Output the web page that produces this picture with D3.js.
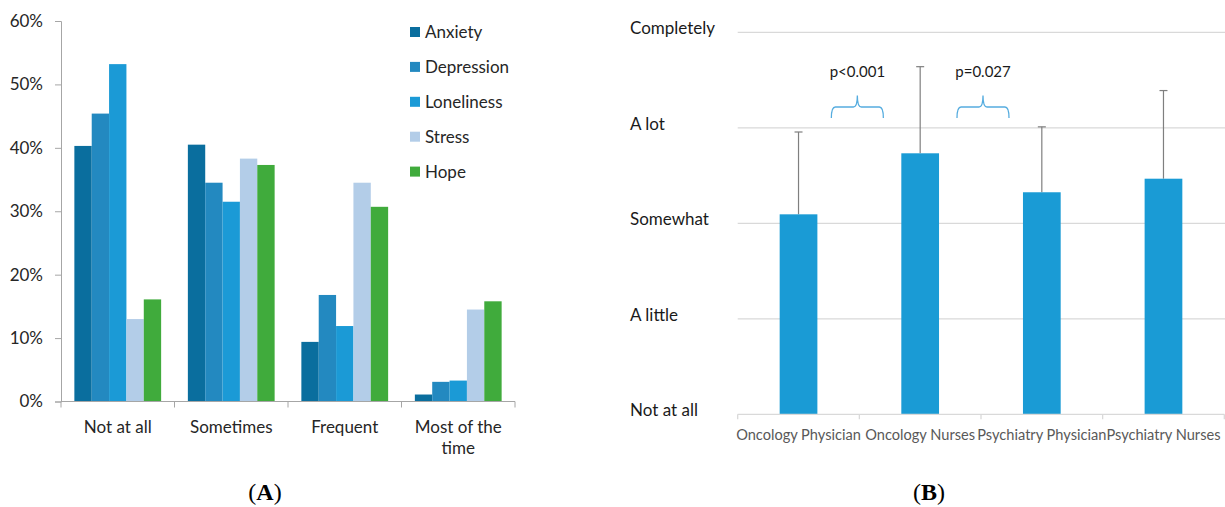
<!DOCTYPE html>
<html>
<head>
<meta charset="utf-8">
<script src="https://cdn.jsdelivr.net/npm/d3@7"></script>
<style>
  html, body { margin: 0; padding: 0; background: #fff; }
  svg { display: block; font-family: Lato, "Open Sans", sans-serif; }
</style>
</head>
<body>
<svg id="chart" width="1225" height="507"></svg>
<script>
// panel A: frequency of feelings
const categoriesA = ['Not at all', 'Sometimes', 'Frequent', 'Most of the time'];
const seriesA = ['Anxiety', 'Depression', 'Loneliness', 'Stress', 'Hope'];
const seriesColors = ['#0a6e9e', '#2389c0', '#1b9ad6', '#b3cde8', '#40ab3c'];
const valuesA = {
    'Anxiety':    [0.403, 0.405, 0.094, 0.011],
    'Depression': [0.454, 0.345, 0.168, 0.031],
    'Loneliness': [0.532, 0.315, 0.119, 0.033],
    'Stress':     [0.130, 0.383, 0.345, 0.145],
    'Hope':       [0.161, 0.373, 0.307, 0.158]
};
const ticksA = [0, 0.1, 0.2, 0.3, 0.4, 0.5, 0.6];

// panel B: rating by professional group (mean + SD)
const groupsB = ['Oncology Physician', 'Oncology Nurses', 'Psychiatry Physician', 'Psychiatry Nurses'];
const meansB = [2.094, 2.733, 2.325, 2.467];
const upperB = [2.956, 3.640, 3.010, 3.390];
const levelsB = ['Not at all', 'A little', 'Somewhat', 'A lot', 'Completely'];
const pValues = [{between: 1, label: 'p<0.001'}, {between: 2, label: 'p=0.027'}];

const svg = d3.select('#chart');

// ---------- panel A ----------
(function() {
    var x = d3.scaleBand().domain(categoriesA).range([61, 515]).padding(0);
    var xInner = d3.scaleBand().domain(seriesA).range([0, x.bandwidth()]).paddingInner(0).paddingOuter(0.77);
    var y = d3.scaleLinear().domain([0, 0.6]).range([401.5, 21]);
    var color = d3.scaleOrdinal().domain(seriesA).range(seriesColors);
    var g = svg.append('g').attr('class', 'panelA');

    // y axis
    var yAxis = g.append('g')
        .attr('transform', 'translate(61,0)')
        .call(d3.axisLeft(y).tickValues(ticksA).tickFormat(d3.format('.0%')).tickSize(6).tickPadding(12));
    yAxis.select('.domain').attr('stroke', '#a6a6a6');
    yAxis.selectAll('.tick line').attr('stroke', '#a6a6a6');
    yAxis.selectAll('.tick text').attr('font-size', 17).attr('fill', '#262626').attr('font-family', 'Lato');

    var groups = g.selectAll('.cat').data(categoriesA).enter().append('g')
        .attr('class', 'cat')
        .attr('transform', function(d) { return 'translate(' + x(d) + ',0)'; });
    groups.selectAll('rect')
        .data(function(d, i) { return seriesA.map(function(s) { return {series: s, value: valuesA[s][i]}; }); })
        .enter().append('rect')
        .attr('x', function(d) { return xInner(d.series); })
        .attr('width', xInner.bandwidth())
        .attr('y', function(d) { return y(d.value); })
        .attr('height', function(d) { return y(0) - y(d.value); })
        .attr('fill', function(d) { return color(d.series); });

    // x axis
    var xAxis = g.append('g')
        .attr('transform', 'translate(0,' + y(0) + ')');
    xAxis.append('line').attr('x1', 61).attr('x2', 515).attr('stroke', '#a6a6a6');
    xAxis.selectAll('line.tk').data(categoriesA.concat(['end'])).enter().append('line')
        .attr('class', 'tk')
        .attr('x1', function(d, i) { return i < categoriesA.length ? x(d) : x.range()[1]; })
        .attr('x2', function(d, i) { return i < categoriesA.length ? x(d) : x.range()[1]; })
        .attr('y1', 0).attr('y2', 6).attr('stroke', '#a6a6a6');

    var labels = xAxis.selectAll('text.cl').data(categoriesA).enter().append('text')
        .attr('class', 'cl')
        .attr('x', function(d) { return x(d) + x.bandwidth() / 2; })
        .attr('text-anchor', 'middle')
        .attr('font-size', 17)
        .attr('fill', '#262626');
    labels.each(function(d) {
        var lines = d === 'Most of the time' ? ['Most of the', 'time'] : [d];
        var t = d3.select(this);
        lines.forEach(function(l, k) {
            t.append('tspan').attr('x', x(d) + x.bandwidth() / 2).attr('y', 31 + k * 21).text(l);
        });
    });

    // legend
    var legend = g.append('g').attr('transform', 'translate(410,32)');
    var items = legend.selectAll('g').data(seriesA).enter().append('g')
        .attr('transform', function(d, i) { return 'translate(0,' + (i * 34.9) + ')'; });
    items.append('rect').attr('x', 0).attr('y', -5).attr('width', 10).attr('height', 10)
        .attr('fill', function(d) { return color(d); });
    items.append('text').attr('x', 15).attr('y', 0).attr('dy', '0.35em')
        .attr('font-size', 17).attr('fill', '#262626').text(function(d) { return d; });
})();

// ---------- panel B ----------
(function() {
    var x = d3.scaleBand().domain(groupsB).range([737.7, 1224.3]).padding(0);
    var y = d3.scaleLinear().domain([0, 4]).range([414.3, 32.3]);
    var barW = x.bandwidth() * 0.31;
    var g = svg.append('g').attr('class', 'panelB');

    // gridlines
    g.selectAll('line.grid').data(d3.range(1, levelsB.length)).enter().append('line')
        .attr('class', 'grid')
        .attr('x1', 737.7).attr('x2', 1225)
        .attr('y1', function(d) { return y(d); }).attr('y2', function(d) { return y(d); })
        .attr('stroke', '#d9d9d9').attr('stroke-width', 1.3);

    // level labels
    g.selectAll('text.lvl').data(levelsB).enter().append('text')
        .attr('class', 'lvl')
        .attr('x', 630)
        .attr('y', function(d, i) { return y(i) - 4; })
        .attr('dy', '0.35em')
        .attr('font-size', 17)
        .attr('fill', '#1a1a1a')
        .text(function(d) { return d; });

    // error bars (upper only)
    var eb = g.selectAll('g.err').data(groupsB).enter().append('g').attr('class', 'err');
    eb.append('line')
        .attr('x1', function(d) { return x(d) + x.bandwidth() / 2; })
        .attr('x2', function(d) { return x(d) + x.bandwidth() / 2; })
        .attr('y1', function(d, i) { return y(meansB[i]); })
        .attr('y2', function(d, i) { return y(upperB[i]); })
        .attr('stroke', '#7f7f7f').attr('stroke-width', 1.2);
    eb.append('line')
        .attr('x1', function(d) { return x(d) + x.bandwidth() / 2 - 4; })
        .attr('x2', function(d) { return x(d) + x.bandwidth() / 2 + 4; })
        .attr('y1', function(d, i) { return y(upperB[i]); })
        .attr('y2', function(d, i) { return y(upperB[i]); })
        .attr('stroke', '#7f7f7f').attr('stroke-width', 1.2);

    // bars
    g.selectAll('rect.bar').data(groupsB).enter().append('rect')
        .attr('class', 'bar')
        .attr('x', function(d) { return x(d) + (x.bandwidth() - barW) / 2; })
        .attr('width', barW)
        .attr('y', function(d, i) { return y(meansB[i]); })
        .attr('height', function(d, i) { return y(0) - y(meansB[i]); })
        .attr('fill', '#1a9bd5');

    // x axis
    var xAxis = g.append('g').attr('transform', 'translate(0,' + y(0) + ')');
    xAxis.append('line').attr('x1', 737.7).attr('x2', 1224.3).attr('stroke', '#d9d9d9').attr('stroke-width', 1.3);
    xAxis.selectAll('line.tk').data(d3.range(groupsB.length + 1)).enter().append('line')
        .attr('class', 'tk')
        .attr('x1', function(i) { return 737.7 + i * x.step(); })
        .attr('x2', function(i) { return 737.7 + i * x.step(); })
        .attr('y1', 0).attr('y2', 5)
        .attr('stroke', '#d9d9d9').attr('stroke-width', 1.3);
    xAxis.selectAll('text').data(groupsB).enter().append('text')
        .attr('x', function(d) { return x(d) + x.bandwidth() / 2; })
        .attr('y', 21)
        .attr('dy', '0.35em')
        .attr('text-anchor', 'middle')
        .attr('font-size', 14.6)
        .attr('fill', '#595959')
        .text(function(d) { return d; });

    // significance brackets
    var br = g.selectAll('g.sig').data(pValues).enter().append('g').attr('class', 'sig')
        .attr('transform', function(d, i) { return 'translate(' + (x(groupsB[d.between]) + (i ? 2 : -2)) + ',0)'; });
    br.append('path')
        .attr('d', function() {
            var w = 26, yl = 107, ye = 118, ym = 95.5;
            return 'M' + (-w) + ',' + ye + ' Q' + (-w) + ',' + yl + ' ' + (-w + 4) + ',' + yl +
                ' L-4,' + yl + ' Q0,' + yl + ' 0,' + ym + ' Q0,' + yl + ' 4,' + yl +
                ' L' + (w - 4) + ',' + yl + ' Q' + w + ',' + yl + ' ' + w + ',' + ye;
        })
        .attr('fill', 'none').attr('stroke', '#55acdf').attr('stroke-width', 1.3);
    br.append('text')
        .attr('x', 0).attr('y', 72).attr('dy', '0.35em')
        .attr('text-anchor', 'middle')
        .attr('font-size', 15)
        .attr('fill', '#1a1a1a')
        .text(function(d) { return d.label; });
})();

// panel captions
[{t: 'A', x: 265}, {t: 'B', x: 929}].forEach(function(c) {
    var txt = svg.append('text')
        .attr('x', c.x).attr('y', 500)
        .attr('text-anchor', 'middle')
        .attr('font-family', '"Liberation Serif", "DejaVu Serif", serif')
        .attr('font-size', 24)
        .attr('fill', '#000');
    txt.append('tspan').text('(');
    txt.append('tspan').attr('font-weight', 'bold').text(c.t);
    txt.append('tspan').text(')');
});
</script>
</body>
</html>
